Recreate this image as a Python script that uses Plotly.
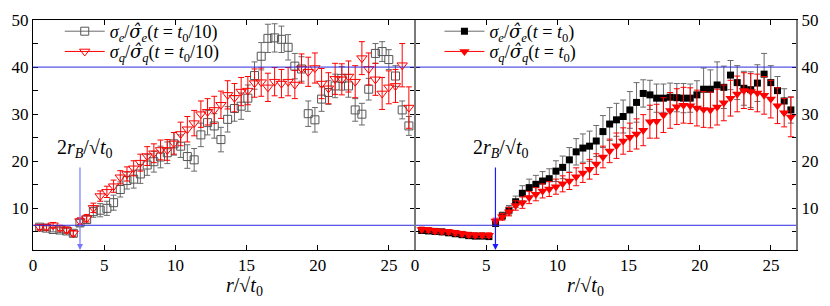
import plotly.graph_objects as go

# r / sqrt(t0) grid (same for both panels)
r = [0.47, 0.94, 1.41, 1.89, 2.36, 2.83, 3.30, 3.77, 4.24, 4.72, 5.19, 5.66, 6.13, 6.60,
     7.07, 7.54, 8.02, 8.49, 8.96, 9.43, 9.90, 10.37, 10.84, 11.32, 11.79, 12.26, 12.73,
     13.20, 13.67, 14.15, 14.62, 15.09, 15.56, 16.03, 16.50, 16.97, 17.45, 17.92, 18.39,
     18.86, 19.33, 19.80, 20.27, 20.75, 21.22, 21.69, 22.16, 22.63, 23.10, 23.58, 24.05,
     24.52, 24.99, 25.46, 25.93, 26.40]

# Left panel: t = t0/10
left_e = [6.0, 5.8, 5.5, 5.4, 5.2, 4.7, 6.9, 7.6, 9.3, 9.6, 10.0, 11.2, 14.0, 15.9, 16.2,
          17.3, 19.2, 19.9, 20.9, 21.8, 23.7, 23.2, 21.0, 20.3, 25.6, 28.2, 27.5, 24.6,
          28.9, 31.2, 31.7, 33.4, 38.2, 42.3, 46.1, 46.2, 45.9, 44.2, 40.2, 39.6, 30.1,
          28.8, 33.2, 34.6, 36.0, 37.6, 36.0, 30.9, 30.0, 35.3, 42.9, 43.3, 41.6, 38.1,
          30.9, 27.5]
left_e_err = [0.5, 0.5, 0.5, 0.5, 0.5, 0.6, 0.7, 0.8, 1.2, 1.4, 1.5, 1.6, 1.6, 1.8, 1.9,
              2.0, 2.2, 2.2, 2.3, 2.3, 2.4, 2.4, 2.5, 2.4, 2.5, 2.6, 2.6, 2.6, 2.7, 2.7,
              2.8, 2.8, 2.9, 2.9, 3.0, 3.0, 2.8, 2.7, 2.7, 2.6, 2.7, 2.6, 2.6, 2.5, 2.5,
              2.5, 2.4, 2.4, 2.3, 2.3, 2.1, 2.1, 2.1, 2.2, 1.9, 2.0]
left_q = [6.0, 6.0, 6.4, 5.8, 5.4, 4.7, 7.3, 7.9, 10.1, 12.6, 13.5, 14.7, 16.6, 17.3, 18.5,
          19.7, 21.1, 21.7, 22.4, 22.4, 23.8, 25.8, 26.8, 28.1, 30.0, 30.5, 30.9, 32.0,
          34.1, 33.5, 34.8, 35.0, 36.6, 36.8, 35.7, 36.9, 36.5, 36.9, 36.3, 39.7, 39.0,
          39.8, 36.5, 35.5, 37.5, 37.4, 38.0, 36.9, 41.9, 39.6, 37.4, 34.4, 35.7, 36.0,
          40.4, 31.4]
left_q_err = [0.6, 0.6, 0.6, 0.6, 0.6, 0.6, 0.7, 0.8, 1.0, 1.1, 1.2, 1.3, 1.4, 1.5, 1.6,
              1.8, 2.0, 2.0, 2.1, 2.2, 2.3, 2.5, 2.7, 2.7, 2.8, 2.8, 2.9, 2.9, 3.0, 3.0,
              3.0, 3.0, 3.0, 3.0, 3.0, 3.0, 3.0, 3.0, 3.0, 3.1, 3.1, 3.2, 3.2, 3.3, 3.3,
              3.3, 3.3, 3.4, 3.5, 3.4, 3.4, 3.4, 3.5, 3.5, 4.6, 4.4]

# Right panel: t = t0
right_e = [5.3, 5.2, 5.1, 5.0, 4.8, 4.6, 4.4, 4.2, 4.1, 4.1, 4.0, 6.8, 8.4, 9.6, 11.4,
           13.2, 14.4, 15.1, 15.8, 16.3, 17.9, 18.7, 20.3, 22.0, 22.8, 23.2, 24.3, 26.3,
           27.9, 28.8, 29.5, 30.9, 32.5, 34.4, 34.1, 33.4, 33.4, 33.6, 33.5, 33.4, 33.4,
           34.1, 35.3, 35.3, 36.2, 35.7, 38.3, 36.7, 35.5, 35.2, 36.6, 38.5, 36.7, 35.0,
           32.8, 30.9]
right_e_err = [0.5, 0.5, 0.5, 0.5, 0.5, 0.5, 0.5, 0.5, 0.5, 0.5, 0.5, 0.6, 0.8, 1.0, 1.2,
               1.6, 1.8, 1.9, 2.0, 2.1, 2.2, 2.4, 2.6, 2.8, 3.0, 3.2, 3.3, 3.4, 3.5, 3.5,
               3.5, 3.9, 4.2, 2.9, 3.1, 3.0, 3.0, 3.0, 3.0, 3.1, 3.0, 3.0, 4.5, 4.1, 4.9,
               4.5, 3.1, 3.6, 3.6, 3.8, 3.9, 4.4, 3.6, 3.0, 2.6, 2.8]
right_q = [5.5, 5.4, 5.2, 5.1, 5.0, 4.8, 4.6, 4.4, 4.3, 4.3, 4.3, 7.3, 8.2, 9.3, 10.6,
           11.2, 12.3, 13.0, 13.7, 14.1, 14.6, 15.2, 15.8, 16.7, 17.5, 18.3, 19.4, 20.9,
           22.2, 23.3, 24.3, 25.1, 25.8, 26.6, 28.4, 28.5, 29.8, 30.8, 31.6, 31.9, 31.8,
           31.3, 31.0, 30.9, 31.5, 32.4, 33.4, 34.3, 35.0, 34.8, 34.5, 34.0, 33.2, 31.8,
           30.3, 29.4]
right_q_err = [0.5, 0.5, 0.5, 0.5, 0.5, 0.5, 0.5, 0.5, 0.5, 0.5, 0.5, 0.6, 0.7, 0.9, 1.0,
               1.2, 1.3, 1.4, 1.5, 1.6, 1.6, 1.7, 1.8, 1.9, 2.0, 2.1, 2.2, 2.3, 2.5, 2.7,
               2.8, 3.0, 3.2, 3.3, 3.5, 3.6, 3.7, 3.8, 3.8, 3.8, 3.8, 3.8, 3.8, 3.8, 3.8,
               3.8, 3.8, 3.8, 3.8, 3.8, 4.0, 4.0, 4.0, 3.8, 3.0, 4.2]

# reference levels and 2 r_B / sqrt(t0) positions
h_levels = [6.4, 40.0]
rB_left = 3.3
rB_right = 5.65
x_ticks = [0, 5, 10, 15, 20, 25]
y_ticks = [5, 10, 15, 20, 25, 30, 35, 40, 45, 50]
y_ticktext = ["", "10", "", "20", "", "30", "", "40", "", "50"]

FONT = "Liberation Serif"
HAT = "<span style='font-family:DejaVu Serif'><i>σ̂</i></span>"
SIG_E = "<i>σ</i><sub><i>e</i></sub>/" + HAT + "<sub><i>e</i></sub>"
SIG_Q = "<i>σ</i><sub><i>q</i></sub>/" + HAT + "<sub><i>q</i></sub>"
names = [SIG_E + "(<i>t</i> = <i>t</i><sub>0</sub>/10)",
         SIG_Q + "(<i>t</i> = <i>t</i><sub>0</sub>/10)",
         SIG_E + "(<i>t</i> = <i>t</i><sub>0</sub>)",
         SIG_Q + "(<i>t</i> = <i>t</i><sub>0</sub>)"]

GRAY = "#6a6a6a"
RED = "#ff0000"

fig = go.Figure()

def add_series(y, err, xa, ya, marker, barcolor, name, legend):
    fig.add_trace(go.Scatter(
        x=r, y=y, mode="markers", xaxis=xa, yaxis=ya, showlegend=False,
        marker=marker,
        error_y=dict(type="data", array=err, visible=True, color=barcolor,
                     thickness=1, width=3)))
    fig.add_trace(go.Scatter(
        x=[None], y=[None], mode="lines+markers", name=name, legend=legend,
        xaxis=xa, yaxis=ya, marker=marker, line=dict(color=barcolor, width=1)))

add_series(left_e, left_e_err, "x", "y",
           dict(symbol="square-open", size=8, color="#555555", line=dict(width=1)),
           GRAY, names[0], "legend")
add_series(left_q, left_q_err, "x", "y",
           dict(symbol="triangle-down-open", size=9, color=RED, line=dict(width=1)),
           RED, names[1], "legend2")
add_series(right_e, right_e_err, "x2", "y2",
           dict(symbol="square", size=7, color="#000000"),
           GRAY, names[2], "legend3")
add_series(right_q, right_q_err, "x2", "y2",
           dict(symbol="triangle-down", size=9, color=RED),
           RED, names[3], "legend4")

shapes = []
for lv in h_levels:
    shapes.append(dict(type="line", xref="paper", yref="y", x0=0, x1=1, y0=lv, y1=lv,
                       line=dict(color="#2a2ae0", width=1)))
for xp in [0.5, 1.0]:
    shapes.append(dict(type="line", xref="paper", yref="paper", x0=xp, x1=xp, y0=0, y1=1,
                       line=dict(color="#7a7a7a", width=2)))

YMIN, YMAX = 1.15, 50
XMAX = 26.83
ARROW_TOP = 19.0
LABEL_Y = 22.8
label = "2<i>r</i><sub><i>B</i></sub>/√<i>t</i><sub>0</sub>"

annotations = [
    dict(x=rB_left, y=YMIN, xref="x", yref="y", ax=rB_left, ay=ARROW_TOP, axref="x",
         ayref="y", text="", showarrow=True, arrowhead=2, arrowsize=1, arrowwidth=1.2,
         arrowcolor="#7878ff"),
    dict(x=rB_right, y=YMIN, xref="x2", yref="y2", ax=rB_right, ay=ARROW_TOP, axref="x2",
         ayref="y2", text="", showarrow=True, arrowhead=2, arrowsize=1, arrowwidth=1.2,
         arrowcolor="#1a1aff"),
    dict(x=rB_left + 0.35, y=LABEL_Y, xref="x", yref="y", text=label, showarrow=False,
         font=dict(family=FONT, size=20, color="black")),
    dict(x=rB_right + 0.35, y=LABEL_Y, xref="x2", yref="y2", text=label, showarrow=False,
         font=dict(family=FONT, size=20, color="black")),
    dict(x=0.25, y=-0.16, xref="paper", yref="paper", text="<i>r</i>/√<i>t</i><sub>0</sub>",
         showarrow=False, yanchor="middle", font=dict(family=FONT, size=20, color="black")),
    dict(x=0.75, y=-0.16, xref="paper", yref="paper", text="<i>r</i>/√<i>t</i><sub>0</sub>",
         showarrow=False, yanchor="middle", font=dict(family=FONT, size=20, color="black")),
]

xax = dict(range=[0, XMAX], tickvals=x_ticks, ticks="inside", ticklen=5, tickcolor="black",
           showline=True, linecolor="black", linewidth=1, mirror="ticks", showgrid=False,
           zeroline=False, automargin=False,
           tickfont=dict(family=FONT, size=17, color="black"))
yax = dict(range=[YMIN, YMAX], tickvals=y_ticks, ticktext=y_ticktext, ticks="inside",
           ticklen=5, tickcolor="black", showline=True, linecolor="black", linewidth=1,
           mirror="ticks", showgrid=False, zeroline=False, automargin=False,
           tickfont=dict(family=FONT, size=17, color="black"))

leg = dict(bgcolor="rgba(0,0,0,0)", font=dict(family=FONT, size=18, color="black"),
           xanchor="left", yanchor="middle", tracegroupgap=0, itemwidth=40)

ROW1, ROW2 = 0.950, 0.862

# page body has an 8px margin: the figure is shrunk by that much so the plot
# area lands where the reference has it (33..797 x 20..250 in the page)
fig.update_layout(
    template="none",
    width=822, height=298,
    margin=dict(l=25, r=33, t=12, b=56, autoexpand=False),
    paper_bgcolor="white", plot_bgcolor="white",
    xaxis=dict(xax, domain=[0, 0.5], anchor="y"),
    yaxis=dict(yax, anchor="x"),
    xaxis2=dict(xax, domain=[0.5, 1], anchor="y2"),
    yaxis2=dict(yax, anchor="x2", side="right"),
    legend=dict(leg, x=0.035, y=ROW1),
    legend2=dict(leg, x=0.035, y=ROW2),
    legend3=dict(leg, x=0.532, y=ROW1),
    legend4=dict(leg, x=0.532, y=ROW2),
    shapes=shapes,
    annotations=annotations,
)

fig.write_html("out.html")
